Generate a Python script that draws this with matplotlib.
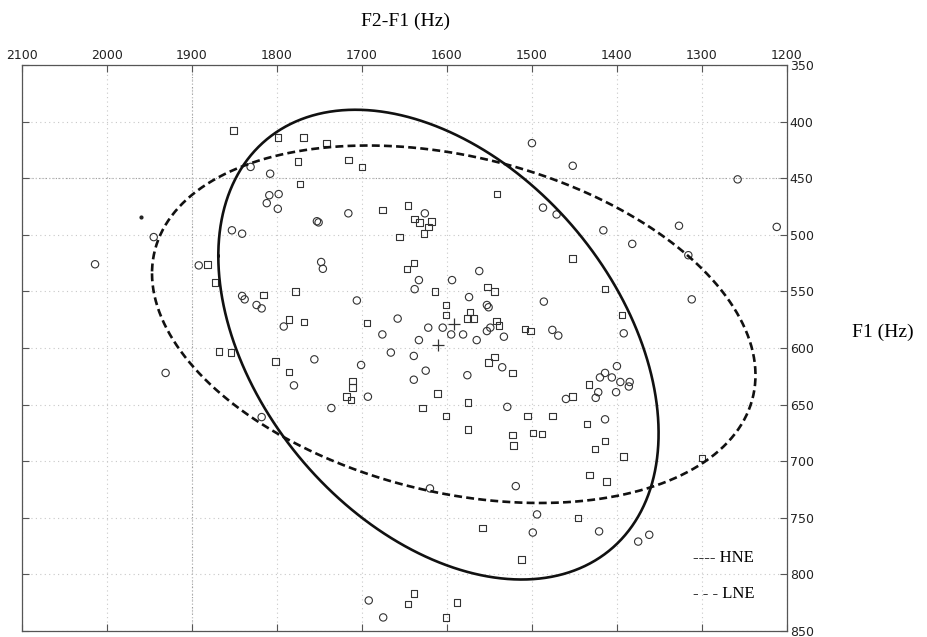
import numpy as np
import matplotlib
matplotlib.use("Agg")
import matplotlib.pyplot as plt

# F2-F1 (x) and F1 (y) in Hz
circles = [(2014, 526), (1945, 502), (1931, 622), (1892, 527), (1853, 496), (1841, 499),
           (1841, 554), (1838, 557), (1831, 440), (1824, 562), (1818, 565), (1818, 661),
           (1808, 446), (1809, 465), (1798, 464), (1812, 472), (1799, 477), (1792, 581),
           (1780, 633), (1756, 610), (1753, 488), (1751, 489), (1748, 524), (1746, 530),
           (1736, 653), (1716, 481), (1706, 558), (1701, 615), (1692, 823), (1693, 643),
           (1676, 588), (1675, 838), (1666, 604), (1658, 574), (1639, 607), (1639, 628),
           (1638, 548), (1633, 540), (1633, 593), (1626, 481), (1625, 620), (1622, 582),
           (1620, 724), (1605, 582), (1595, 588), (1594, 540), (1581, 588), (1576, 624),
           (1574, 555), (1565, 593), (1562, 532), (1553, 562), (1551, 564), (1553, 585),
           (1549, 582), (1535, 617), (1533, 590), (1529, 652), (1519, 722), (1500, 419),
           (1499, 763), (1494, 747), (1487, 476), (1486, 559), (1476, 584), (1471, 482),
           (1469, 589), (1460, 645), (1452, 439), (1425, 644), (1422, 639), (1421, 762),
           (1420, 626), (1416, 496), (1414, 622), (1414, 663), (1406, 626), (1401, 639),
           (1400, 616), (1396, 630), (1392, 587), (1386, 634), (1385, 630), (1382, 508),
           (1375, 771), (1362, 765), (1327, 492), (1316, 518), (1312, 557), (1258, 451),
           (1212, 493)]

squares = [(1882, 526), (1873, 542), (1868, 603), (1854, 604), (1851, 408), (1816, 553),
           (1802, 612), (1799, 414), (1786, 575), (1786, 621), (1778, 550), (1775, 435),
           (1773, 455), (1769, 414), (1768, 577), (1742, 419), (1716, 434), (1700, 440),
           (1718, 643), (1713, 646), (1711, 629), (1711, 635), (1694, 578), (1676, 478),
           (1656, 502), (1646, 474), (1647, 530), (1639, 525), (1646, 826), (1639, 817),
           (1638, 486), (1632, 489), (1622, 493), (1618, 488), (1627, 499), (1629, 653),
           (1614, 550), (1611, 640), (1601, 562), (1601, 571), (1601, 660), (1601, 838),
           (1588, 825), (1576, 574), (1573, 568), (1569, 574), (1575, 648), (1575, 672),
           (1558, 759), (1552, 546), (1544, 550), (1551, 613), (1544, 608), (1542, 576),
           (1539, 580), (1541, 464), (1523, 622), (1523, 677), (1522, 686), (1512, 787),
           (1508, 583), (1502, 585), (1505, 660), (1499, 675), (1488, 676), (1476, 660),
           (1452, 521), (1452, 643), (1446, 750), (1435, 667), (1433, 632), (1432, 712),
           (1426, 689), (1414, 682), (1414, 548), (1412, 718), (1394, 571), (1392, 696),
           (1300, 697)]

stray = [(1960, 484)]

# ellipse per group: centre, spread in x, spread in y, covariance
groups = ["HNE", "LNE"]
centre_x = [1610, 1592]
centre_y = [597, 579]
spread_x = [259.0, 355.0]
spread_y = [207.5, 157.9]
cov_xy = [-20281, -15965]

x_ticks = [2100, 2000, 1900, 1800, 1700, 1600, 1500, 1400, 1300, 1200]
y_ticks = [350, 400, 450, 500, 550, 600, 650, 700, 750, 800, 850]

tick_font = ["Liberation Sans Narrow", "DejaVu Sans"]
serif = ["Liberation Serif", "DejaVu Serif"]

fig = plt.figure(figsize=(9.27, 6.37), dpi=100)
ax = fig.add_axes([0.0237, 0.0094, 0.8252, 0.8885])

cx, cy = zip(*circles)
ax.scatter(cx, cy, s=28, marker="o", facecolors="none", edgecolors="#333333", linewidths=0.8, zorder=3)
sx, sy = zip(*squares)
ax.scatter(sx, sy, s=22, marker="s", facecolors="none", edgecolors="#333333", linewidths=0.8, zorder=3)
ax.scatter(*zip(*stray), s=4, color="#222222", zorder=3)

t = np.linspace(0, 2 * np.pi, 400)
styles = ["-", (0, (3.0, 1.6))]
for i, g in enumerate(groups):
    cov = np.array([[spread_x[i] ** 2, cov_xy[i]], [cov_xy[i], spread_y[i] ** 2]])
    L = np.linalg.cholesky(cov)
    pts = L @ np.vstack([np.cos(t), np.sin(t)])
    ax.plot(pts[0] + centre_x[i], pts[1] + centre_y[i], color="#111111", lw=1.9,
            linestyle=styles[i], zorder=4)
    ax.plot(centre_x[i], centre_y[i], marker="+", ms=9, mew=0.9, color="#333333", zorder=4)

ax.set_xlim(2100, 1200)
ax.set_ylim(850, 350)
ax.set_xticks(x_ticks)
ax.set_yticks(y_ticks)
ax.xaxis.tick_top()
ax.yaxis.tick_right()
ax.tick_params(axis="both", direction="in", length=5, width=0.8, color="#555555",
               top=True, bottom=True, left=True, right=True, pad=2, labelsize=9)
for lab in ax.get_xticklabels() + ax.get_yticklabels():
    lab.set_family(tick_font)
    lab.set_color("#222222")

ax.grid(True, linestyle=(0, (1, 3)), color="#c8c8c8", lw=0.8)
ax.axvline(1900, linestyle=(0, (1, 2)), color="#999999", lw=0.8, zorder=1)
ax.axhline(450, linestyle=(0, (1, 2)), color="#999999", lw=0.8, zorder=1)
for s in ax.spines.values():
    s.set_color("#555555")
    s.set_linewidth(0.9)

fig.text(0.437, 0.967, "F2-F1 (Hz)", ha="center", va="center", fontsize=14, family=serif)
fig.text(0.952, 0.479, "F1 (Hz)", ha="center", va="center", fontsize=14, family=serif)

ax.text(0.877, 0.129, "---- HNE", transform=ax.transAxes, va="center", fontsize=12, family=serif)
ax.text(0.877, 0.065, "- - - LNE", transform=ax.transAxes, va="center", fontsize=12, family=serif)

plt.savefig("out.png", dpi=100)
